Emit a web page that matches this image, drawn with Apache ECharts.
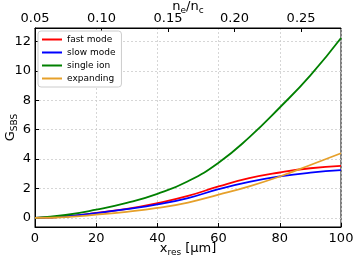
<!DOCTYPE html>
<html><head><meta charset="utf-8">
<script src="https://cdn.jsdelivr.net/npm/echarts@6/dist/echarts.min.js"></script>
<style>html,body{margin:0;padding:0;background:#fff}#c{width:357px;height:259px}</style>
</head><body><div id="c"></div>
<script>
const xRes = [0, 10, 20, 30, 40, 50, 60, 70, 80, 90, 100];
const fastMode = [0, 0.1, 0.34, 0.62, 1.01, 1.5, 2.14, 2.7, 3.09, 3.38, 3.54];
const slowMode = [0, 0.1, 0.33, 0.6, 0.92, 1.35, 1.96, 2.45, 2.82, 3.08, 3.25];
const singleIon = [0, 0.2, 0.56, 1.02, 1.64, 2.5, 3.76, 5.48, 7.51, 9.7, 12.24];
const expanding = [0, 0.06, 0.22, 0.42, 0.68, 1.05, 1.58, 2.15, 2.82, 3.6, 4.4];
const seriesNames = ['fast mode', 'slow mode', 'single ion', 'expanding'];
const seriesColors = ['#ff0000', '#0000ff', '#008000', '#e6a02a'];
const seriesData = [fastMode, slowMode, singleIon, expanding];

const font = 'DejaVu Sans';
const rich = {a: {fontSize: 13, color: '#000', fontFamily: font}, s: {fontSize: 9, color: '#000', fontFamily: font, padding: [7, 0, 0, 0]}};
const chart = echarts.init(document.getElementById('c'));
chart.setOption({
  animation: false,
  textStyle: {fontFamily: font},
  grid: {left: 35, right: 16, top: 28, bottom: 32, containLabel: false, outerBoundsMode: 'none',
    show: true, borderColor: '#000', borderWidth: 1, backgroundColor: 'transparent'},
  legend: {
    left: 38, top: 31, orient: 'vertical', itemGap: 4, itemWidth: 20, itemHeight: 2,
    icon: 'rect', backgroundColor: '#fff', borderColor: '#ccc', borderWidth: 1, borderRadius: 3,
    padding: [4, 6, 4, 4],
    textStyle: {fontFamily: font, fontSize: 9, color: '#000'},
    data: seriesNames
  },
  xAxis: [{
    type: 'value', min: 0, max: 100, interval: 20, position: 'bottom',
    axisLine: {show: true, onZero: false, lineStyle: {color: '#000', width: 1}},
    axisTick: {show: true, inside: true, length: 4, lineStyle: {color: '#000'}},
    axisLabel: {fontSize: 13, color: '#000', margin: 5, fontFamily: font},
    splitLine: {show: true, lineStyle: {color: '#ccc', type: [2, 2], width: 0.8}},
    name: '{a|x}{s|res}{a| [μm]}', nameLocation: 'middle', nameGap: 14, nameMoveOverlap: false,
    nameTextStyle: {rich: rich}
  }, {
    type: 'value', min: 0.05, max: 0.28, interval: 0.05, position: 'top',
    axisLine: {show: true, onZero: false, lineStyle: {color: '#000', width: 1}},
    axisTick: {show: true, inside: true, length: 4, lineStyle: {color: '#000'}},
    axisLabel: {fontSize: 13, color: '#000', margin: 3, fontFamily: font, showMaxLabel: false,
      formatter: v => v.toFixed(2)},
    splitLine: {show: false},
    name: '{a|n}{s|e}{a|/n}{s|c}', nameLocation: 'middle', nameGap: 13, nameMoveOverlap: false,
    nameTextStyle: {rich: rich}
  }],
  yAxis: {
    type: 'value', min: -0.615, max: 12.915, splitNumber: 7,
    axisLine: {show: true, onZero: false, lineStyle: {color: '#000', width: 1}},
    axisTick: {show: true, inside: true, length: 4, lineStyle: {color: '#000'}},
    axisLabel: {fontSize: 13, color: '#000', margin: 4, fontFamily: font, showMinLabel: false, showMaxLabel: false},
    splitLine: {show: true, lineStyle: {color: '#ccc', type: [2, 2], width: 0.8}},
    name: '{a|G}{s|SBS}', nameLocation: 'middle', nameGap: 16, nameRotate: 90, nameMoveOverlap: false,
    nameTextStyle: {rich: rich}
  },
  series: seriesNames.map((n, i) => ({
    name: n, type: 'line', xAxisIndex: 0, smooth: true, showSymbol: false, symbol: 'none',
    lineStyle: {color: seriesColors[i], width: 1.8}, itemStyle: {color: seriesColors[i]},
    data: xRes.map((x, j) => [x, seriesData[i][j]])
  }))
});
</script></body></html>
